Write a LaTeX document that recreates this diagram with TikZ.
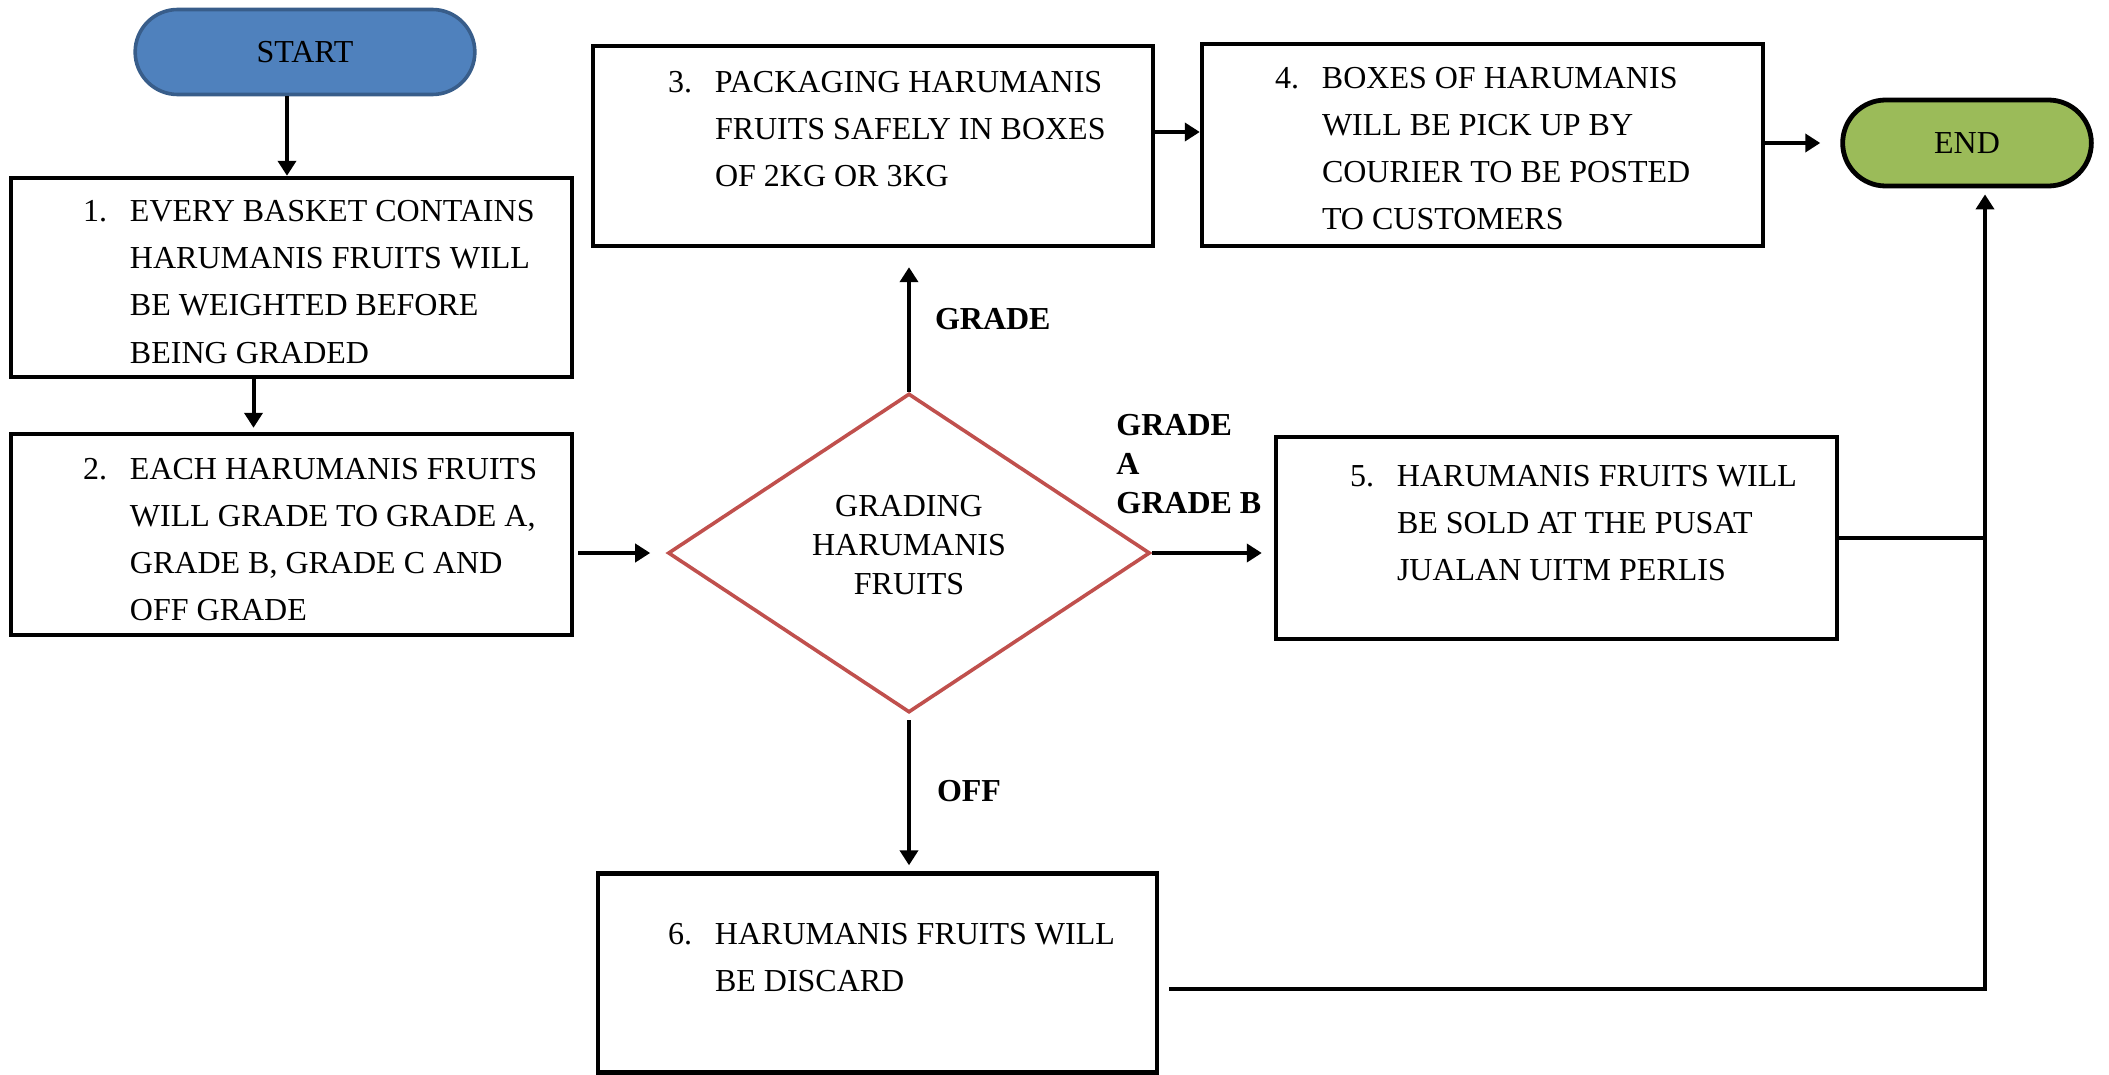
\documentclass[tikz,border=0pt]{standalone}
\usepackage{fontspec}
\setmainfont{Liberation Serif}
\usetikzlibrary{shapes.geometric, shapes.misc, arrows.meta, calc}

\definecolor{startblue}{HTML}{4F81BD}
\definecolor{startedge}{HTML}{385D8A}
\definecolor{endgreen}{HTML}{9BBB59}
\definecolor{gradered}{HTML}{C0504D}

\newcommand{\stepfont}{\fontsize{16}{23.5}\selectfont}
\newcommand{\gradefont}{\fontsize{16}{19.5}\selectfont}
% width of text block, number, lines
\newcommand{\stepitem}[3]{\makebox[#1][l]{\makebox[23.5pt][l]{#2}\begin{tabular}[t]{@{}l@{}}#3\end{tabular}}}

\tikzset{
  terminal/.style={rounded rectangle, line width=1.8pt, font=\stepfont, minimum height=42.5pt},
  stepbox/.style n args={3}{draw, line width=2.2pt, font=\stepfont, inner ysep=0pt, inner xsep=#1, text height=#2, text depth=#3},
  decision/.style={diamond, draw=gradered, line width=1.8pt, font=\gradefont, align=center, inner sep=0pt, text depth=8pt, minimum width=241pt, minimum height=159.5pt},
  lbl/.style={font=\gradefont\bfseries, inner sep=0pt},
  flow/.style={line width=2pt},
  >={Triangle[length=7.5pt, width=9pt]}
}

\begin{document}
\begin{tikzpicture}[x=0.5pt, y=-0.5pt]
\useasboundingbox (0,0) rectangle (2109,1075);
\node[terminal, fill=startblue, draw=startedge, minimum width=176.5pt] (start) at (305,52) {START};
\node[terminal, fill=endgreen, draw=black, line width=2.4pt, minimum width=131pt, minimum height=43pt] (finish) at (1967,143) {END};
\node[stepbox={36pt}{22pt}{77.5pt}] (box1) at (291.5,277.5) {\stepitem{208.5pt}{1.}{EVERY BASKET CONTAINS\\HARUMANIS FRUITS WILL\\BE WEIGHTED BEFORE\\BEING GRADED}};
\node[stepbox={36pt}{22.5pt}{78pt}] (box2) at (291.5,534.5) {\stepitem{208.5pt}{2.}{EACH HARUMANIS FRUITS\\WILL GRADE TO GRADE A,\\GRADE B, GRADE C AND\\OFF GRADE}};
\node[stepbox={37.5pt}{23.5pt}{76.5pt}] (box3) at (873,146) {\stepitem{205pt}{3.}{PACKAGING HARUMANIS\\FRUITS SAFELY IN BOXES\\OF 2KG OR 3KG}};
\node[stepbox={36.5pt}{22.5pt}{78.5pt}] (box4) at (1482.5,145) {\stepitem{207.5pt}{4.}{BOXES OF HARUMANIS\\WILL BE PICK UP BY\\COURIER TO BE POSTED\\TO CUSTOMERS}};
\node[stepbox={37pt}{24.5pt}{76.5pt}] (box5) at (1556.5,538) {\stepitem{206.5pt}{5.}{HARUMANIS FRUITS WILL\\BE SOLD AT THE PUSAT\\JUALAN UITM PERLIS}};
\node[stepbox={35pt}{35.5pt}{64pt}] (box6) at (877.5,973) {\stepitem{209.5pt}{6.}{HARUMANIS FRUITS WILL\\BE DISCARD}};
\node[decision] (grading) at (909,553) {GRADING\\HARUMANIS\\FRUITS};
\node[lbl, align=left, anchor=north west] (gradeab) at (1116,414) {GRADE\\A\\GRADE B};
\coordinate (join) at ([xshift=9pt]finish.south |- box5.east);

% connectors
\draw[flow, ->] ([xshift=-9pt]start.south) -- ([xshift=-9pt]start.south |- box1.north);
\draw[flow, ->] ([xshift=-19pt]box1.south) -- ([xshift=-19pt, yshift=2pt]box2.north);
\draw[flow, ->] ([xshift=2pt]box2.east |- grading.west) -- ([xshift=-8pt]grading.west);
\draw[flow, ->] (grading.north) -- ([yshift=-9.5pt]grading.north |- box3.south) node[lbl, right=12pt, pos=0.58] (lgrade) {GRADE};
\draw[flow, ->] ([yshift=7pt]box3.east) -- ([yshift=7pt]box3.east -| box4.west);
\draw[flow, ->] (box4.east |- finish.west) -- ([xshift=-10pt]finish.west);
\draw[flow, ->] (grading.east) -- ([xshift=-6pt]grading.east -| box5.west);
\draw[flow, ->] ([yshift=-3pt]grading.south) -- ([yshift=3pt]grading.south |- box6.north) node[lbl, right=13pt, pos=0.49] (loff) {OFF};
\draw[flow, ->] (box5.east) -- (join) -- ([xshift=9pt, yshift=-3pt]finish.south);
\draw[flow] ([xshift=5pt, yshift=-8pt]box6.east) -| (join);
\end{tikzpicture}
\end{document}
